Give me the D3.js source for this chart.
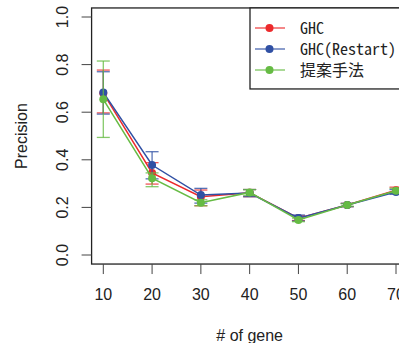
<!DOCTYPE html>
<html>
<head>
<meta charset="utf-8">
<script src="https://cdn.jsdelivr.net/npm/d3@7"></script>
<style>
  body { margin: 0; background: #fff; }
  svg { display: block; }
</style>
</head>
<body>
<script>
// Data
const genes = [10, 20, 30, 40, 50, 60, 70];
const yTicks = [0, 0.2, 0.4, 0.6, 0.8, 1.0];
const seriesNames = ['GHC', 'GHC(Restart)', '提案手法'];

const ghc = [0.68, 0.345, 0.245, 0.262, 0.155, 0.21, 0.272];
const ghcLow = [0.597, 0.298, 0.207, 0.245, 0.145, 0.203, 0.26];
const ghcHigh = [0.777, 0.388, 0.273, 0.275, 0.165, 0.217, 0.285];

const restart = [0.683, 0.378, 0.252, 0.26, 0.155, 0.21, 0.265];
const restartLow = [0.592, 0.32, 0.218, 0.245, 0.143, 0.203, 0.255];
const restartHigh = [0.77, 0.434, 0.28, 0.275, 0.168, 0.217, 0.275];

const proposed = [0.654, 0.323, 0.22, 0.263, 0.147, 0.21, 0.27];
const proposedLow = [0.494, 0.287, 0.207, 0.25, 0.14, 0.205, 0.262];
const proposedHigh = [0.815, 0.345, 0.232, 0.275, 0.155, 0.215, 0.28];

const colors = ['#ec2a2c', '#3050a4', '#66bb44'];

// Constants
const width = 399;
const height = 343;

const svg = d3.select('body')
    .append('svg')
    .attr('width', width)
    .attr('height', height);

// Scales (R style: 4% padding around data range)
const x = d3.scaleLinear().domain([10, 70]).range([103.3, 396]);
const y = d3.scaleLinear().domain([0, 1]).range([255, 17]);

const series = [
    { name: seriesNames[0], values: ghc, low: ghcLow, high: ghcHigh, color: colors[0] },
    { name: seriesNames[1], values: restart, low: restartLow, high: restartHigh, color: colors[1] },
    { name: seriesNames[2], values: proposed, low: proposedLow, high: proposedHigh, color: colors[2] }
];

// Plot box
const x0 = x(7.6), x1 = x(72.4), y0 = y(-0.038), y1 = y(1.038);

// Series
series.forEach(s => {
    const g = svg.append('g');
    const pts = genes.map((d, i) => ({ x: d, v: s.values[i], lo: s.low[i], hi: s.high[i] }));

    g.append('path')
        .datum(pts)
        .attr('fill', 'none')
        .attr('stroke', s.color)
        .attr('stroke-width', 1.5)
        .attr('d', d3.line().x(d => x(d.x)).y(d => y(d.v)));

    const eb = g.selectAll('g.err')
        .data(pts)
        .join('g')
        .attr('stroke', s.color)
        .attr('stroke-width', 1.3)
        .attr('stroke-opacity', 0.8);
    eb.append('line')
        .attr('x1', d => x(d.x)).attr('x2', d => x(d.x))
        .attr('y1', d => y(d.lo)).attr('y2', d => y(d.hi));
    eb.append('line')
        .attr('x1', d => x(d.x) - 6.5).attr('x2', d => x(d.x) + 6.5)
        .attr('y1', d => y(d.lo)).attr('y2', d => y(d.lo));
    eb.append('line')
        .attr('x1', d => x(d.x) - 6.5).attr('x2', d => x(d.x) + 6.5)
        .attr('y1', d => y(d.hi)).attr('y2', d => y(d.hi));

    g.selectAll('circle')
        .data(pts)
        .join('circle')
        .attr('cx', d => x(d.x))
        .attr('cy', d => y(d.v))
        .attr('r', 4)
        .attr('fill', s.color);
});

// Box
svg.append('rect')
    .attr('x', x0).attr('y', y1)
    .attr('width', x1 - x0).attr('height', y0 - y1)
    .attr('fill', 'none')
    .attr('stroke', '#222')
    .attr('stroke-width', 1.3);

// Y axis
const yAxis = svg.append('g').attr('stroke', '#444').attr('stroke-width', 1);
yAxis.selectAll('line')
    .data(yTicks)
    .join('line')
    .attr('x1', x0 - 10).attr('x2', x0)
    .attr('y1', d => y(d)).attr('y2', d => y(d));
svg.append('g')
    .selectAll('text')
    .data(yTicks)
    .join('text')
    .attr('transform', d => `translate(68,${y(d)}) rotate(-90)`)
    .attr('text-anchor', 'middle')
    .attr('font-family', 'Liberation Sans, Arial, sans-serif')
    .attr('font-size', 16)
    .attr('fill', '#222')
    .text(d => d.toFixed(1));

// X axis
const xAxis = svg.append('g').attr('stroke', '#444').attr('stroke-width', 1);
xAxis.selectAll('line')
    .data(genes)
    .join('line')
    .attr('x1', d => x(d)).attr('x2', d => x(d))
    .attr('y1', y0).attr('y2', y0 + 10);
svg.append('g')
    .selectAll('text')
    .data(genes)
    .join('text')
    .attr('x', d => x(d))
    .attr('y', 300)
    .attr('text-anchor', 'middle')
    .attr('font-family', 'Liberation Sans, Arial, sans-serif')
    .attr('font-size', 16)
    .attr('fill', '#222')
    .text(d => d);

// Axis titles
svg.append('text')
    .attr('x', (x0 + x1) / 2)
    .attr('y', 341)
    .attr('text-anchor', 'middle')
    .attr('font-family', 'Liberation Sans, Arial, sans-serif')
    .attr('font-size', 16)
    .attr('fill', '#222')
    .text('# of gene');
svg.append('text')
    .attr('transform', `translate(27,${(y0 + y1) / 2}) rotate(-90)`)
    .attr('text-anchor', 'middle')
    .attr('font-family', 'Liberation Sans, Arial, sans-serif')
    .attr('font-size', 16)
    .attr('fill', '#222')
    .text('Precision');

// Legend
const legend = svg.append('g');
legend.append('rect')
    .attr('x', 250).attr('y', y1)
    .attr('width', 180).attr('height', 81)
    .attr('fill', '#fff')
    .attr('stroke', '#222')
    .attr('stroke-width', 1.3);
const rows = legend.selectAll('g.row')
    .data(series)
    .join('g')
    .attr('transform', (d, i) => `translate(0,${28 + i * 21})`);
rows.append('line')
    .attr('x1', 255).attr('x2', 285)
    .attr('stroke', d => d.color)
    .attr('stroke-opacity', 0.75)
    .attr('stroke-width', 1.5);
rows.append('circle')
    .attr('cx', 269.5).attr('r', 4)
    .attr('fill', d => d.color);
rows.append('text')
    .attr('x', 300)
    .attr('y', 5.5)
    .attr('font-family', '"Noto Sans Mono CJK JP", "Noto Sans CJK JP", sans-serif')
    .attr('font-size', 16)
    .attr('fill', '#222')
    .attr('textLength', d => d.name === '提案手法' ? null : d.name.length * 8)
    .attr('lengthAdjust', 'spacingAndGlyphs')
    .text(d => d.name);
</script>
</body>
</html>
